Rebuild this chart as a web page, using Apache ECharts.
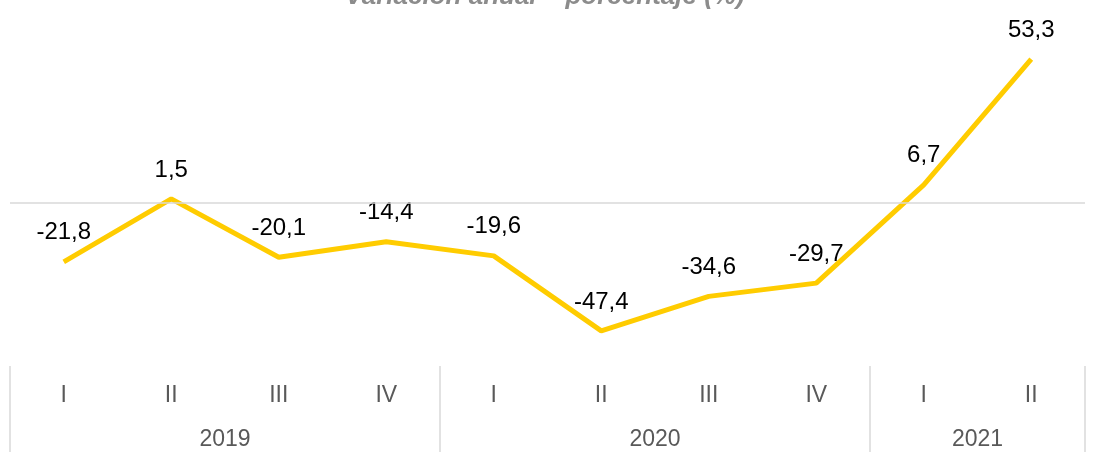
<!DOCTYPE html>
<html><head><meta charset="utf-8">
<script src="https://cdn.jsdelivr.net/npm/echarts@6/dist/echarts.min.js"></script>
<style>html,body{margin:0;padding:0;background:#fff}#c{width:1101px;height:454px}</style>
</head><body><div id="c"></div>
<script>
const quarters = ['I','II','III','IV','I','II','III','IV','I','II'];
const years = ['2019','2020','2021'];
const yearCenters = [2, 6, 9];
const yearBounds = [0, 4, 8, 10];
const values = [-21.8, 1.5, -20.1, -14.4, -19.6, -47.4, -34.6, -29.7, 6.7, 53.3];
const titleText = 'Variación anual – porcentaje (%)';

const FF = '"Liberation Sans", Arial, sans-serif';
const chart = echarts.init(document.getElementById('c'));
chart.setOption({
  animation: false,
  graphic: [{
    type: 'text', x: 545, y: 10,
    style: { text: titleText, textAlign: 'center', textVerticalAlign: 'bottom',
      font: 'italic bold 26px "Liberation Sans", Arial, sans-serif', fill: '#8c8c8c' }
  }],
  grid: { left: 10, right: 16, top: 41, bottom: 88 },
  xAxis: [{
    type: 'category', data: quarters, boundaryGap: true,
    axisLine: { show: false }, axisTick: { show: false }, splitLine: { show: false },
    axisLabel: { margin: 18, fontSize: 23, color: '#595959', fontFamily: FF }
  }, {
    type: 'value', min: 0, max: 10, position: 'bottom',
    axisLine: { show: false }, splitLine: { show: false },
    axisTick: { show: true, customValues: yearBounds, length: 86, lineStyle: { color: '#d9d9d9', width: 1.5 } },
    axisLabel: { customValues: yearCenters, margin: 62, fontSize: 23, color: '#595959', fontFamily: FF,
      formatter: v => years[yearCenters.indexOf(v)] }
  }],
  yAxis: { type: 'value', min: -60.4, max: 60, show: false, splitLine: { show: false } },
  series: [{
    type: 'line', data: values, xAxisIndex: 0, showSymbol: true, symbol: 'circle', symbolSize: 0,
    itemStyle: { color: '#FFCC00' },
    lineStyle: { color: '#FFCC00', width: 5 },
    label: { show: true, position: 'top', distance: 17, fontSize: 24, color: '#000', fontFamily: FF,
      formatter: p => String(p.value).replace('.', ',') },
    markLine: { silent: true, symbol: 'none', label: { show: false },
      lineStyle: { color: '#d9d9d9', width: 1.5, type: 'solid' }, data: [{ yAxis: 0 }] }
  }]
});
</script></body></html>
